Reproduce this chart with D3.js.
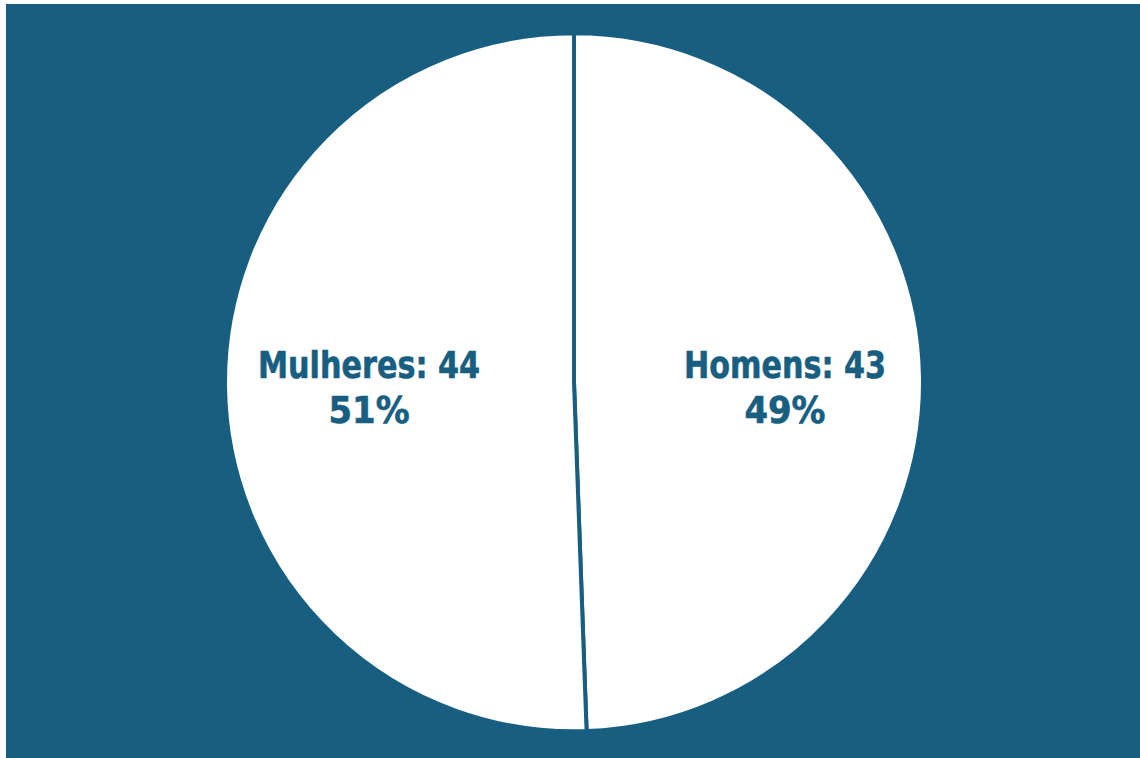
<!DOCTYPE html>
<html>
<head>
<meta charset="utf-8">
<script src="https://cdn.jsdelivr.net/npm/d3@7"></script>
<style>
  html, body { margin: 0; padding: 0; background: #ffffff; }
  svg { display: block; }
</style>
</head>
<body>
<div id="chart"></div>
<script>
// chart data
var categories = ["Homens", "Mulheres"];
var values = [43, 44];
var percents = ["49%", "51%"];

// dimensions
var svgWidth = 1140;
var svgHeight = 758;
var blue = "#175e80";

var svg = d3.select("#chart")
    .append("svg")
    .attr("width", svgWidth)
    .attr("height", svgHeight);

// background panel
svg.append("rect")
    .attr("x", 6)
    .attr("y", 4)
    .attr("width", svgWidth - 6)
    .attr("height", svgHeight - 4)
    .attr("fill", blue);

var cx = 574, cy = 382.3;
var radius = 349;

var data = categories.map(function (c, i) {
    return { name: c, value: values[i], pct: percents[i] };
});

var pie = d3.pie()
    .sort(null)
    .value(function (d) { return d.value; });

var arc = d3.arc().innerRadius(0).outerRadius(radius);
var labelArc = d3.arc().innerRadius(208).outerRadius(208);

var g = svg.append("g")
    .attr("transform", "translate(" + cx + "," + cy + ")");

var arcs = pie(data);

g.selectAll("path.slice")
    .data(arcs)
    .enter()
    .append("path")
    .attr("class", "slice")
    .attr("d", arc)
    .attr("fill", "#ffffff")
    .attr("stroke", blue)
    .attr("stroke-width", 4)
    .attr("stroke-linejoin", "miter");

// labels: two lines, name + value, then percentage
var labels = g.selectAll("g.label")
    .data(arcs)
    .enter()
    .append("g")
    .attr("class", "label")
    .attr("transform", function (d) {
        var c = labelArc.centroid(d);
        return "translate(" + (c[0] + 3) + ",0)";
    })
    .style("font-family", "'DejaVu Sans Condensed', 'DejaVu Sans', sans-serif")
    .style("font-weight", "bold")
    .style("font-size", "38px")
    .style("stroke", blue)
    .style("stroke-width", 0.6)
    .attr("fill", blue)
    .attr("text-anchor", "middle");

labels.append("text")
    .attr("y", -4)
    .attr("textLength", function (d) { return d.data.name === "Mulheres" ? 222 : 202; })
    .attr("lengthAdjust", "spacingAndGlyphs")
    .text(function (d) { return d.data.name + ": " + d.data.value; });

labels.append("text")
    .attr("y", 41)
    .attr("textLength", 81)
    .attr("lengthAdjust", "spacingAndGlyphs")
    .text(function (d) { return d.data.pct; });
</script>
</body>
</html>
